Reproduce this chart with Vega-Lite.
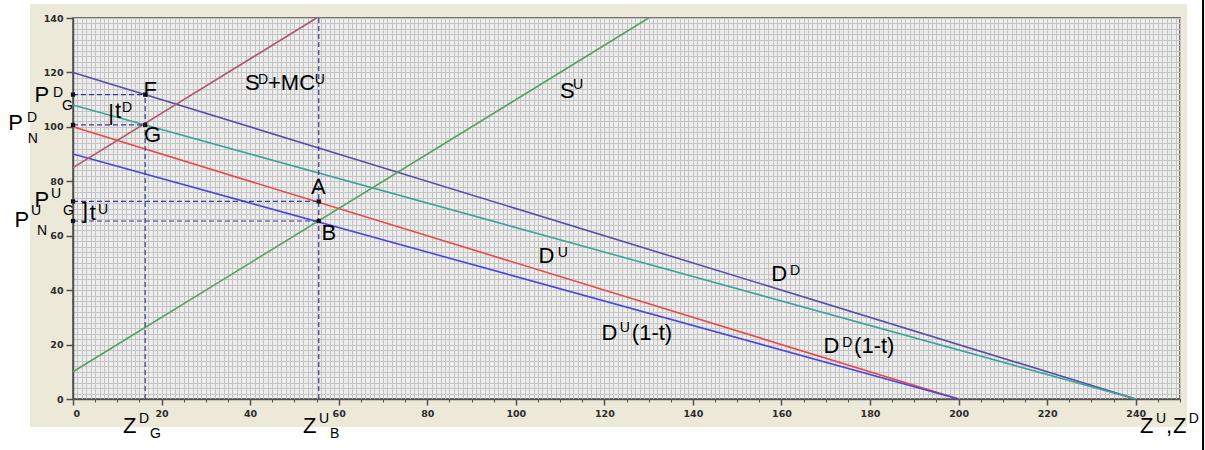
{
  "$schema": "https://vega.github.io/schema/vega-lite/v6.json",
  "width": 1107,
  "height": 381,
  "autosize": {"type": "none"},
  "padding": {"left": 73, "top": 18, "right": 25, "bottom": 51},
  "background": "#ece9d8",
  "config": {
    "view": {"fill": "#ededed", "stroke": "#4a4a4a", "strokeWidth": 1.5},
    "axis": {"title": null, "labelFont": "DejaVu Sans", "labelFontWeight": "bold", "labelFontSize": 9.5, "labelColor": "#2a2a2a", "domainColor": "#505050", "tickColor": "#505050"}
  },
  "datasets": {
    "one": [{"k": 1}],
    "lines": [
      {"s": "DD", "x": 0, "y": 120}, {"s": "DD", "x": 240, "y": 0},
      {"s": "DDt", "x": 0, "y": 108}, {"s": "DDt", "x": 240, "y": 0},
      {"s": "DU", "x": 0, "y": 100}, {"s": "DU", "x": 200, "y": 0},
      {"s": "DUt", "x": 0, "y": 90}, {"s": "DUt", "x": 200, "y": 0},
      {"s": "SU", "x": 0, "y": 10}, {"s": "SU", "x": 130, "y": 140},
      {"s": "SDMC", "x": 0, "y": 85}, {"s": "SDMC", "x": 55, "y": 140}
    ],
    "dashes": [
      {"x": 0, "x2": 16.3, "y": 111.85, "y2": 111.85},
      {"x": 0, "x2": 16.3, "y": 100.7, "y2": 100.7},
      {"x": 16.3, "x2": 16.3, "y": 0, "y2": 111.85},
      {"x": 0, "x2": 55.5, "y": 72.6, "y2": 72.6},
      {"x": 0, "x2": 55.5, "y": 65.4, "y2": 65.4},
      {"x": 55.5, "x2": 55.5, "y": 0, "y2": 140}
    ],
    "pts": [
      {"x": 0, "y": 111.85}, {"x": 16.3, "y": 111.85},
      {"x": 0, "y": 100.7}, {"x": 16.3, "y": 100.7},
      {"x": 0, "y": 72.6}, {"x": 55.5, "y": 72.6},
      {"x": 0, "y": 65.4}, {"x": 55.5, "y": 65.4}
    ],
    "big": [
      {"t": "P", "x": -8.7, "y": 109.1},
      {"t": "P", "x": -14.6, "y": 98.8},
      {"t": "P", "x": -8.7, "y": 70.55},
      {"t": "P", "x": -13.2, "y": 63.2},
      {"t": "]", "x": 2.0, "y": 66.6},
      {"t": "t", "x": 3.8, "y": 65.8},
      {"t": "|", "x": 7.97, "y": 102.7},
      {"t": "t", "x": 9.49, "y": 103.3},
      {"t": "F", "x": 15.92, "y": 111.0},
      {"t": "G", "x": 16.03, "y": 94.4},
      {"t": "S", "x": 38.84, "y": 113.5},
      {"t": "+MC", "x": 44.04, "y": 113.5},
      {"t": "S", "x": 109.98, "y": 110.6},
      {"t": "A", "x": 53.75, "y": 75.3},
      {"t": "B", "x": 56.12, "y": 58.4},
      {"t": "D", "x": 105.1, "y": 50.0},
      {"t": "D", "x": 157.7, "y": 43.4},
      {"t": "D", "x": 119.35, "y": 21.7},
      {"t": "(1-t)", "x": 126.2, "y": 21.7},
      {"t": "D", "x": 169.5, "y": 16.9},
      {"t": "(1-t)", "x": 176.4, "y": 16.9},
      {"t": "Z", "x": 11.29, "y": -12.49},
      {"t": "Z", "x": 51.94, "y": -12.49},
      {"t": "Z", "x": 240.97, "y": -12.49},
      {"t": ",", "x": 246.84, "y": -12.49},
      {"t": "Z", "x": 248.42, "y": -12.49}
    ],
    "small": [
      {"t": "D", "x": -4.52, "y": 111.0},
      {"t": "G", "x": -2.48, "y": 106.2},
      {"t": "D", "x": -10.4, "y": 101.8},
      {"t": "N", "x": -10.2, "y": 94.1},
      {"t": "U", "x": -4.97, "y": 73.9},
      {"t": "G", "x": -2.26, "y": 67.6},
      {"t": "U", "x": -9.49, "y": 67.6},
      {"t": "N", "x": -8.13, "y": 60.3},
      {"t": "U", "x": 5.65, "y": 68.0},
      {"t": "D", "x": 11.07, "y": 105.5},
      {"t": "D", "x": 41.78, "y": 115.7},
      {"t": "U", "x": 54.6, "y": 115.7},
      {"t": "U", "x": 112.9, "y": 113.9},
      {"t": "U", "x": 109.5, "y": 52.2},
      {"t": "D", "x": 161.9, "y": 45.6},
      {"t": "U", "x": 123.5, "y": 24.6},
      {"t": "D", "x": 173.7, "y": 19.1},
      {"t": "D", "x": 14.9, "y": -8.82},
      {"t": "G", "x": 17.39, "y": -14.33},
      {"t": "U", "x": 55.56, "y": -8.82},
      {"t": "B", "x": 58.04, "y": -14.33},
      {"t": "U", "x": 244.6, "y": -8.82},
      {"t": "D", "x": 252.0, "y": -8.82}
    ]
  },
  "resolve": {"axis": {"x": "independent", "y": "independent"}},
  "layer": [
    {
      "data": {"name": "lines"},
      "mark": {"type": "line", "strokeWidth": 1.6},
      "encoding": {
        "x": {"field": "x", "type": "quantitative", "scale": {"domain": [0, 250], "nice": false},
              "axis": {"orient": "bottom", "tickCount": 250, "grid": true, "gridColor": "#c4c4c4", "gridWidth": 1, "labels": false, "ticks": false, "domain": false}},
        "y": {"field": "y", "type": "quantitative", "scale": {"domain": [0, 140], "nice": false},
              "axis": {"orient": "left", "tickCount": 70, "grid": true, "gridColor": "#c4c4c4", "gridWidth": 1, "labels": false, "ticks": false, "domain": false}},
        "color": {"field": "s", "type": "nominal", "legend": null,
                  "scale": {"domain": ["DD", "DDt", "DU", "DUt", "SU", "SDMC"], "range": ["#574fa6", "#3fa39c", "#ec4646", "#4848e0", "#56a35e", "#b0586c"]}}
      }
    },
    {
      "data": {"name": "dashes"},
      "mark": {"type": "rule", "strokeDash": [5, 3], "color": "#38389a", "strokeWidth": 1.2},
      "encoding": {
        "x": {"field": "x", "type": "quantitative",
              "axis": {"orient": "bottom", "values": [0, 20, 40, 60, 80, 100, 120, 140, 160, 180, 200, 220, 240], "grid": false, "tickSize": 6, "tickWidth": 1.5, "labelPadding": 3, "domainWidth": 1.5}},
        "x2": {"field": "x2"},
        "y": {"field": "y", "type": "quantitative",
              "axis": {"orient": "left", "values": [0, 20, 40, 60, 80, 100, 120, 140], "grid": false, "tickSize": 7, "tickWidth": 1.5, "labelPadding": 3, "domainWidth": 1.5}},
        "y2": {"field": "y2"}
      }
    },
    {
      "data": {"name": "pts"},
      "mark": {"type": "square", "size": 18, "color": "#111111", "opacity": 1},
      "encoding": {
        "x": {"field": "x", "type": "quantitative",
              "axis": {"orient": "bottom", "tickCount": 50, "grid": false, "labels": false, "domain": false, "tickSize": 3}},
        "y": {"field": "y", "type": "quantitative", "axis": null}
      }
    },
    {
      "data": {"name": "one"},
      "mark": {"type": "rect", "color": "white", "clip": false},
      "encoding": {
        "x": {"datum": -16.49, "type": "quantitative", "axis": null},
        "x2": {"datum": -9.71},
        "y": {"datum": 146.6, "type": "quantitative", "axis": null},
        "y2": {"datum": -18.75}
      }
    },
    {
      "data": {"name": "one"},
      "mark": {"type": "rect", "color": "white", "clip": false},
      "encoding": {
        "x": {"datum": -16.49, "type": "quantitative", "axis": null},
        "x2": {"datum": 255.64},
        "y": {"datum": -10.29, "type": "quantitative", "axis": null},
        "y2": {"datum": -18.75}
      }
    },
    {
      "data": {"name": "one"},
      "mark": {"type": "rect", "color": "white", "clip": false},
      "encoding": {
        "x": {"datum": 251.6, "type": "quantitative", "axis": null},
        "x2": {"datum": 255.64},
        "y": {"datum": 146.6, "type": "quantitative", "axis": null},
        "y2": {"datum": -18.75}
      }
    },
    {
      "data": {"name": "one"},
      "mark": {"type": "rect", "color": "white", "clip": false},
      "encoding": {
        "x": {"datum": -16.49, "type": "quantitative", "axis": null},
        "x2": {"datum": 255.64},
        "y": {"datum": 146.6, "type": "quantitative", "axis": null},
        "y2": {"datum": 145.15}
      }
    },
    {
      "data": {"name": "one"},
      "mark": {"type": "rule", "color": "#000000", "strokeWidth": 2, "clip": false},
      "encoding": {
        "x": {"datum": 255.2, "type": "quantitative", "axis": null},
        "y": {"datum": 146.6, "type": "quantitative", "axis": null},
        "y2": {"datum": -18.75}
      }
    },
    {
      "data": {"name": "big"},
      "mark": {"type": "text", "align": "left", "baseline": "alphabetic", "font": "Liberation Sans", "fontSize": 22, "color": "#000000"},
      "encoding": {
        "x": {"field": "x", "type": "quantitative", "axis": null},
        "y": {"field": "y", "type": "quantitative", "axis": null},
        "text": {"field": "t"}
      }
    },
    {
      "data": {"name": "small"},
      "mark": {"type": "text", "align": "left", "baseline": "alphabetic", "font": "Liberation Sans", "fontSize": 14, "color": "#000000"},
      "encoding": {
        "x": {"field": "x", "type": "quantitative", "axis": null},
        "y": {"field": "y", "type": "quantitative", "axis": null},
        "text": {"field": "t"}
      }
    }
  ]
}
